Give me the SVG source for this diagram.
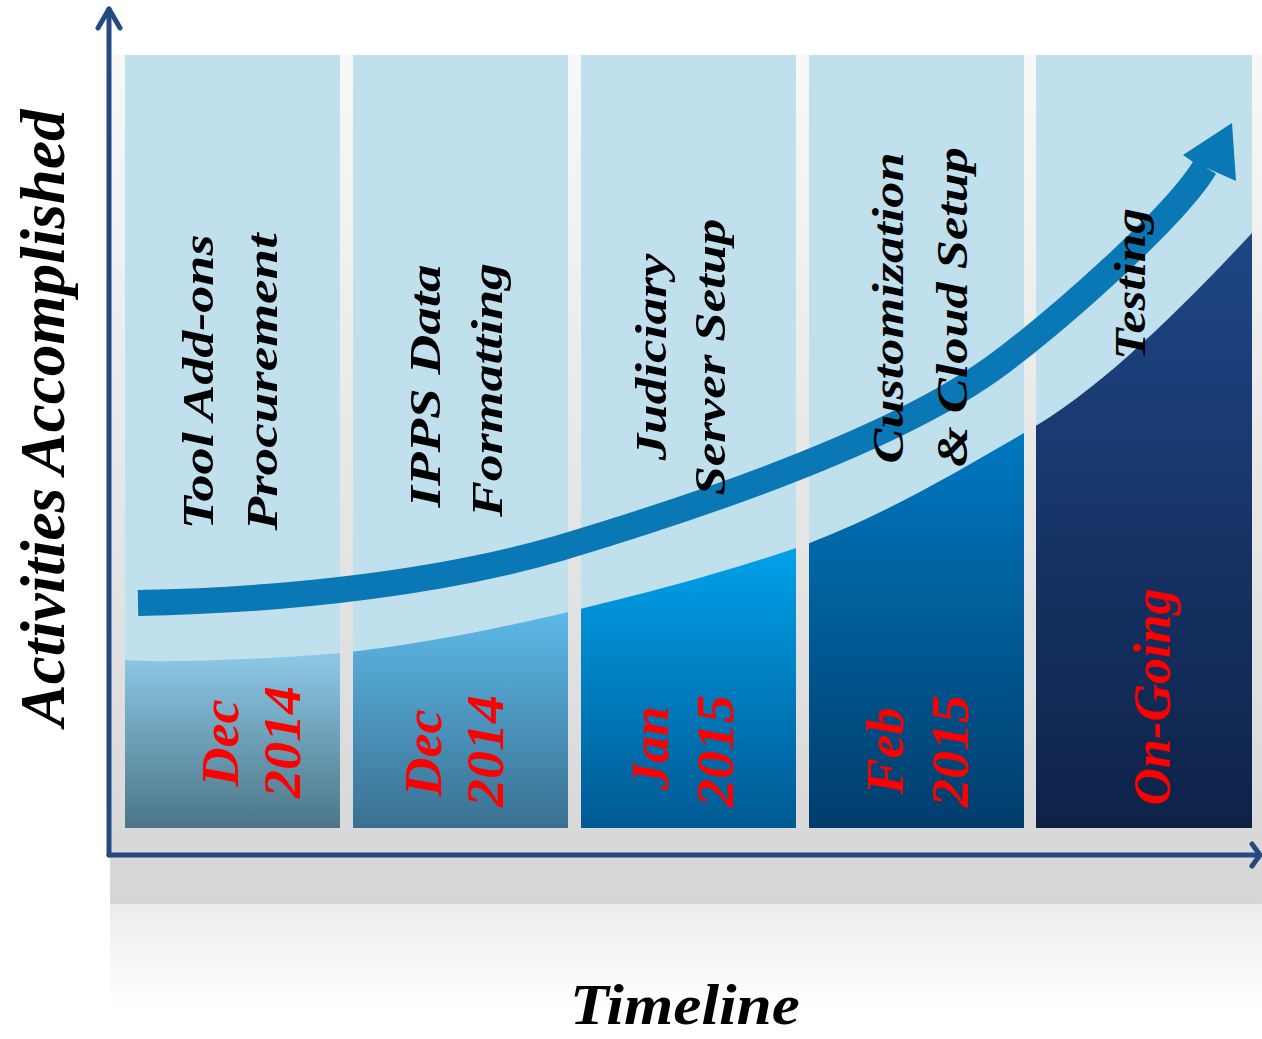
<svg xmlns="http://www.w3.org/2000/svg" width="1262" height="1039" viewBox="0 0 1262 1039">
<style>
.lbl{font-family:"Liberation Serif","Times New Roman",serif;font-weight:bold;font-style:italic;fill:#000;font-size:44px;text-anchor:middle}
.date{font-family:"Liberation Serif","Times New Roman",serif;font-weight:bold;font-style:italic;fill:#ff0000;font-size:52px;text-anchor:middle}
.title{font-family:"Liberation Serif","Times New Roman",serif;font-weight:bold;font-style:italic;fill:#000;text-anchor:middle}
.top{fill:#c0e0ed}
.axis{fill:none;stroke:#254a80;stroke-width:5;stroke-linecap:round;stroke-linejoin:round}
</style>
<defs>
<linearGradient id="panel" x1="0" y1="54" x2="0" y2="904" gradientUnits="userSpaceOnUse">
<stop offset="0" stop-color="#f8f8f8"/><stop offset="1" stop-color="#d6d6d6"/>
</linearGradient>
<linearGradient id="refl" x1="0" y1="904" x2="0" y2="1008" gradientUnits="userSpaceOnUse">
<stop offset="0" stop-color="#ececec"/><stop offset="1" stop-color="#ffffff"/>
</linearGradient>
<linearGradient id="g1" x1="0" y1="655" x2="0" y2="828" gradientUnits="userSpaceOnUse">
<stop offset="0" stop-color="#8cc8e5"/><stop offset="1" stop-color="#4c7587"/>
</linearGradient>
<linearGradient id="g2" x1="0" y1="612" x2="0" y2="828" gradientUnits="userSpaceOnUse">
<stop offset="0" stop-color="#5cb9e7"/><stop offset="1" stop-color="#3a7091"/>
</linearGradient>
<linearGradient id="g3" x1="0" y1="548" x2="0" y2="828" gradientUnits="userSpaceOnUse">
<stop offset="0" stop-color="#00a1e9"/><stop offset="1" stop-color="#005993"/>
</linearGradient>
<linearGradient id="g4" x1="0" y1="433" x2="0" y2="828" gradientUnits="userSpaceOnUse">
<stop offset="0" stop-color="#0078c0"/><stop offset="1" stop-color="#003d6c"/>
</linearGradient>
<linearGradient id="g5" x1="0" y1="233" x2="0" y2="828" gradientUnits="userSpaceOnUse">
<stop offset="0" stop-color="#1f4686"/><stop offset="1" stop-color="#0e2248"/>
</linearGradient>
<clipPath id="below">
<path d="M100,660 L125,660 C160,663 260,660 340,653 C420,645 500,628 568,612 C650,592 720,574 796,548 C880,518 960,470 1024,433 C1100,390 1180,310 1252,233 L1262,222 L1262,840 L100,840 Z"/>
</clipPath>
</defs>

<rect id="panel" x="110" y="54" width="1152" height="850" fill="url(#panel)"/>
<rect id="reflection" x="110" y="904" width="1152" height="104" fill="url(#refl)"/>

<g id="col1">
<rect class="top" x="125" y="55" width="215" height="773"/>
<rect x="125" y="55" width="215" height="773" fill="url(#g1)" clip-path="url(#below)"/>
</g>
<g id="col2">
<rect class="top" x="353" y="55" width="215" height="773"/>
<rect x="353" y="55" width="215" height="773" fill="url(#g2)" clip-path="url(#below)"/>
</g>
<g id="col3">
<rect class="top" x="581" y="55" width="215" height="773"/>
<rect x="581" y="55" width="215" height="773" fill="url(#g3)" clip-path="url(#below)"/>
</g>
<g id="col4">
<rect class="top" x="809" y="55" width="215" height="773"/>
<rect x="809" y="55" width="215" height="773" fill="url(#g4)" clip-path="url(#below)"/>
</g>
<g id="col5">
<rect class="top" x="1036" y="55" width="216" height="773"/>
<rect x="1036" y="55" width="216" height="773" fill="url(#g5)" clip-path="url(#below)"/>
</g>

<g id="trend-arrow">
<path d="M138,603 C300,600 450,580 560,548 C710,503 900,438 1000,363 C1060,318 1175,217 1205,167" fill="none" stroke="#0b78b6" stroke-width="26"/>
<polygon points="1232,123 1236,181 1218,173 1193,162 1183,155" fill="#0b78b6"/>
</g>

<g id="labels">
<text class="lbl" transform="translate(213,382) rotate(-90)" textLength="295" lengthAdjust="spacingAndGlyphs">Tool Add-ons</text>
<text class="lbl" transform="translate(277,382) rotate(-90)" textLength="297" lengthAdjust="spacingAndGlyphs">Procurement</text>
<text class="lbl" transform="translate(440,386) rotate(-90)" textLength="243" lengthAdjust="spacingAndGlyphs">IPPS Data</text>
<text class="lbl" transform="translate(502,390) rotate(-90)" textLength="254" lengthAdjust="spacingAndGlyphs">Formatting</text>
<text class="lbl" transform="translate(666,357) rotate(-90)" textLength="207" lengthAdjust="spacingAndGlyphs">Judiciary</text>
<text class="lbl" transform="translate(725,357) rotate(-90)" textLength="277" lengthAdjust="spacingAndGlyphs">Server Setup</text>
<text class="lbl" transform="translate(903,308) rotate(-90)" textLength="311" lengthAdjust="spacingAndGlyphs">Customization</text>
<text class="lbl" transform="translate(967,307) rotate(-90)" textLength="320" lengthAdjust="spacingAndGlyphs">&amp; Cloud Setup</text>
<text class="lbl" transform="translate(1145,284) rotate(-90)" textLength="152" lengthAdjust="spacingAndGlyphs">Testing</text>
</g>

<g id="dates">
<text class="date" transform="translate(238,743) rotate(-90)" textLength="87" lengthAdjust="spacingAndGlyphs">Dec</text>
<text class="date" transform="translate(300,742) rotate(-90)" textLength="112" lengthAdjust="spacingAndGlyphs">2014</text>
<text class="date" transform="translate(441,753) rotate(-90)" textLength="87" lengthAdjust="spacingAndGlyphs">Dec</text>
<text class="date" transform="translate(503,751) rotate(-90)" textLength="112" lengthAdjust="spacingAndGlyphs">2014</text>
<text class="date" transform="translate(668,748) rotate(-90)" textLength="84" lengthAdjust="spacingAndGlyphs">Jan</text>
<text class="date" transform="translate(733,751) rotate(-90)" textLength="112" lengthAdjust="spacingAndGlyphs">2015</text>
<text class="date" transform="translate(903,751) rotate(-90)" textLength="87" lengthAdjust="spacingAndGlyphs">Feb</text>
<text class="date" transform="translate(968,751) rotate(-90)" textLength="112" lengthAdjust="spacingAndGlyphs">2015</text>
<text class="date" transform="translate(1170,697) rotate(-90)" textLength="217" lengthAdjust="spacingAndGlyphs">On-Going</text>
</g>

<g id="axes">
<path class="axis" d="M109,855 L109,9"/>
<path class="axis" d="M98,28 L109,9 L120,28"/>
<path class="axis" d="M109,855 L1259,855"/>
<path class="axis" d="M1252,844 L1260,855 L1252,866"/>
</g>

<text class="title" font-size="64" transform="translate(64,418) rotate(-90)" textLength="617" lengthAdjust="spacingAndGlyphs">Activities Accomplished</text>
<text class="title" font-size="58" x="685" y="1024" textLength="230" lengthAdjust="spacingAndGlyphs">Timeline</text>
</svg>
